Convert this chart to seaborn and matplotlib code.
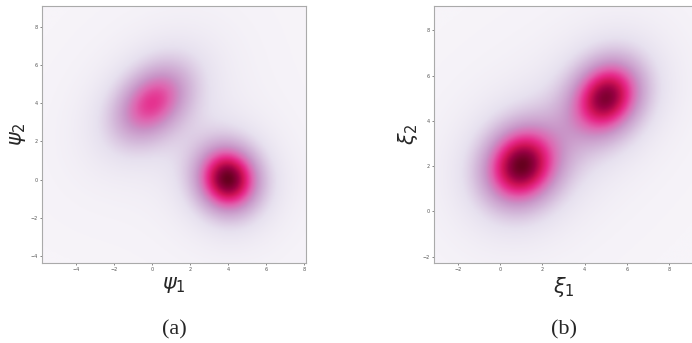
import numpy as np
import matplotlib
matplotlib.use("Agg")
import matplotlib.pyplot as plt
import seaborn as sns

# mixture components: (mean x, mean y), (sd x, sd y), corr, weight
means_a = [(0.0, 4.0), (4.0, 0.0)]
sds_a = [(1.8, 1.8), (1.32, 1.4)]
corr_a = [0.35, -0.05]
weights_a = [0.6, 1.0]

means_b = [(1.0, 2.0), (5.0, 5.0)]
sds_b = [(1.45, 1.42), (1.38, 1.38)]
corr_b = [0.12, 0.18]
weights_b = [1.0, 0.93]

xlim_a, ylim_a = (-5.8, 8.1), (-4.37, 9.08)
xlim_b, ylim_b = (-3.12, 9.17), (-2.28, 9.07)
ticks_a = [-4, -2, 0, 2, 4, 6, 8]
yticks_a = [-4, -2, 0, 2, 4, 6, 8]
ticks_b = [-2, 0, 2, 4, 6, 8]
yticks_b = [-2, 0, 2, 4, 6, 8]

nu = 3  # tail heaviness of each blob


def mixture(xx, yy, means, sds, corrs, weights):
    z = np.zeros_like(xx)
    for (mx, my), (sx, sy), r, w in zip(means, sds, corrs, weights):
        dx = (xx - mx) / sx
        dy = (yy - my) / sy
        q = (dx**2 - 2 * r * dx * dy + dy**2) / (1 - r**2)
        z += w * (1 + q / nu) ** (-(nu + 2) / 2)
    return z / z.max()


sns.set_style("ticks")
cmap = sns.color_palette("PuRd", as_cmap=True)

fig = plt.figure(figsize=(6.92, 3.43), dpi=100)
ax_a = fig.add_axes([0.0607, 0.2332, 0.3815, 0.7493])
ax_b = fig.add_axes([0.6272, 0.2332, 0.3758, 0.7493])

panels = [
    (ax_a, means_a, sds_a, corr_a, weights_a, xlim_a, ylim_a, ticks_a, yticks_a,
     r'$\psi_1$', r'$\psi_2$', '(a)'),
    (ax_b, means_b, sds_b, corr_b, weights_b, xlim_b, ylim_b, ticks_b, yticks_b,
     r'$\xi_1$', r'$\xi_2$', '(b)'),
]

for ax, m, s, c, w, xl, yl, xt, yt, xlab, ylab, tag in panels:
    gx = np.linspace(xl[0], xl[1], 300)
    gy = np.linspace(yl[0], yl[1], 300)
    xx, yy = np.meshgrid(gx, gy)
    zz = mixture(xx, yy, m, s, c, w)
    ax.imshow(zz, extent=(xl[0], xl[1], yl[0], yl[1]), origin='lower',
              cmap=cmap, vmin=0, vmax=1, aspect='auto', interpolation='bilinear')
    ax.set_xlim(xl)
    ax.set_ylim(yl)
    ax.set_xticks(xt)
    ax.set_yticks(yt)
    ax.tick_params(labelsize=3.5, length=1.5, width=0.5, pad=1.5,
                   colors='#555555')
    for sp in ax.spines.values():
        sp.set_color('#aaaaaa')
        sp.set_linewidth(0.8)
    ax.set_xlabel(xlab, fontsize=15, labelpad=2)
    ax.set_ylabel(ylab, fontsize=15, labelpad=2)
    ax.text(0.5, -0.26, tag, transform=ax.transAxes, ha='center', va='center',
            fontsize=16, family='Liberation Serif')

fig.savefig('out.png', dpi=100)
